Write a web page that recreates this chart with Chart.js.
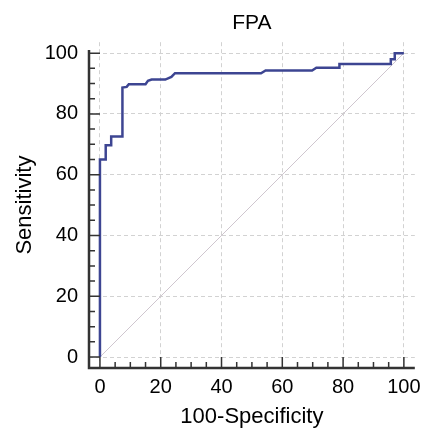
<!DOCTYPE html>
<html>
<head>
<meta charset="utf-8">
<script src="https://cdn.jsdelivr.net/npm/chart.js"></script>
<style>
  html, body { margin: 0; padding: 0; background: #fff; }
  #wrap { width: 428px; height: 431px; }
</style>
</head>
<body>
<div id="wrap"><canvas id="rocChart"></canvas></div>
<script>
// ROC curve vertices (100-Specificity, Sensitivity)
var fpr = [0, 0, 1.9, 1.9, 3.7, 3.7, 7.4, 7.4, 8.8, 9.5, 15, 15.8, 17, 21.5, 23.5, 24.7, 53, 54.5, 69.8, 71.2, 78.8, 78.8, 95.7, 95.7, 97, 97, 100];
var tpr = [0, 65, 65, 69.7, 69.7, 72.6, 72.6, 88.7, 88.9, 89.8, 89.8, 90.9, 91.3, 91.3, 92.2, 93.4, 93.4, 94.3, 94.3, 95.2, 95.2, 96.4, 96.4, 98, 98, 100, 100];
var diagX = [0, 100];
var diagY = [0, 100];
var majorTicks = [0, 20, 40, 60, 80, 100];
var minorStep = 5;

function toPoints(xs, ys) {
  return xs.map(function (x, i) { return { x: x, y: ys[i] }; });
}

// axis lines with inward major/minor ticks
var axisPlugin = {
  id: 'axisPlugin',
  afterDraw: function (chart) {
    var ctx = chart.ctx, a = chart.chartArea;
    var xs = chart.scales.x, ys = chart.scales.y;
    ctx.save();
    ctx.strokeStyle = '#333';
    ctx.lineWidth = 2.5;
    ctx.beginPath();
    ctx.moveTo(a.left, ys.getPixelForValue(101));
    ctx.lineTo(a.left, a.bottom);
    ctx.lineTo(a.right, a.bottom);
    ctx.stroke();
    ctx.lineWidth = 1.5;
    for (var v = 0; v <= 100; v += minorStep) {
      var len = v % 20 === 0 ? 11 : 6;
      var px = xs.getPixelForValue(v), py = ys.getPixelForValue(v);
      ctx.beginPath();
      ctx.moveTo(px, a.bottom); ctx.lineTo(px, a.bottom - len);
      ctx.moveTo(a.left, py); ctx.lineTo(a.left + len, py);
      ctx.stroke();
    }
    ctx.restore();
  }
};

function fixTicks(scale) {
  scale.ticks = majorTicks.map(function (v) { return { value: v }; });
}

var FONT = 'Liberation Sans, Arial, sans-serif';

var ctx1 = document.getElementById('rocChart').getContext('2d');
var rocChart = new Chart(ctx1, {
  type: 'scatter',
  data: {
    datasets: [{
      label: 'FPA',
      data: toPoints(fpr, tpr),
      showLine: true,
      borderColor: '#3d4592',
      borderWidth: 2.5,
      pointRadius: 0,
      fill: false,
      order: 1
    }, {
      label: 'reference',
      data: toPoints(diagX, diagY),
      showLine: true,
      borderColor: '#cfc6cf',
      borderWidth: 1,
      pointRadius: 0,
      fill: false,
      order: 2
    }]
  },
  plugins: [axisPlugin],
  options: {
    responsive: true,
    maintainAspectRatio: false,
    animation: false,
    layout: { padding: { left: 12, right: 11, top: 0, bottom: 0 } },
    plugins: {
      legend: { display: false },
      tooltip: { enabled: false },
      title: {
        display: true,
        text: 'FPA',
        fullSize: false,
        color: '#000',
        font: { family: FONT, size: 21, weight: 'normal' },
        padding: { top: 11, bottom: 6 }
      }
    },
    scales: {
      x: {
        type: 'linear',
        min: -3.6,
        max: 103.6,
        afterBuildTicks: fixTicks,
        afterFit: function (s) { s.height = 63; },
        grid: { color: '#d2d2d2', lineWidth: 1, drawTicks: false },
        border: { display: false, dash: [4, 3] },
        ticks: {
          color: '#000',
          padding: 7,
          font: { family: FONT, size: 20 }
        },
        title: {
          display: true,
          text: '100-Specificity',
          color: '#000',
          font: { family: FONT, size: 22 },
          padding: { top: 4, bottom: 1 }
        }
      },
      y: {
        type: 'linear',
        min: -3.6,
        max: 103.6,
        afterBuildTicks: fixTicks,
        afterFit: function (s) { s.width = 77; },
        grid: { color: '#d2d2d2', lineWidth: 1, drawTicks: false },
        border: { display: false, dash: [4, 3] },
        ticks: {
          color: '#000',
          padding: 11,
          font: { family: FONT, size: 20 }
        },
        title: {
          display: true,
          text: 'Sensitivity',
          color: '#000',
          font: { family: FONT, size: 22 },
          padding: { top: 0, bottom: 0 }
        }
      }
    }
  }
});
</script>
</body>
</html>
